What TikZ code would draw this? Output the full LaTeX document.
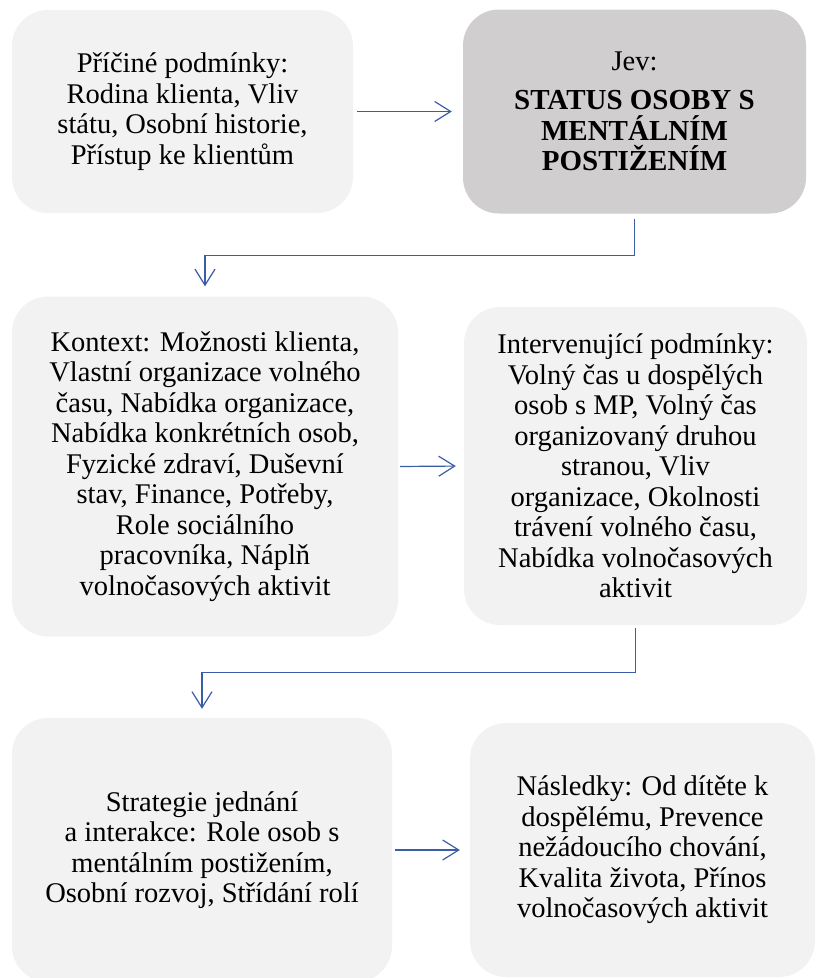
\documentclass[tikz,border=0pt]{standalone}
\usepackage{fontspec}
\setmainfont{Liberation Serif}
\usepackage{tikz}
\usetikzlibrary{
arrows.meta,
positioning
}
\definecolor{PMLight}{HTML}{F2F2F2}
\definecolor{PMDark}{HTML}{D0CECE}
\definecolor{PMBlue}{HTML}{3A5DA8}

\newcommand{\pmhead}[1]{{\fontsize{29}{31}\selectfont\bfseries #1}}

\tikzset{
pmbox/.style={rounded corners=36pt, fill=PMLight, align=center, inner sep=0pt,
  font=\fontsize{28.5}{30.5}\selectfont},
pmcore/.style={pmbox, fill=PMDark},
pmlink/.style={draw=PMBlue, line width=1.2pt, -{Straight Barb[length=16pt,width=20pt]}}
}

\begin{document}
\begin{tikzpicture}[x=1pt, y=-1pt]
\useasboundingbox (0,0) rectangle (818,978);
% upper row
\node[pmbox, minimum width=341pt, minimum height=203pt] (cause) at (182.5,111.5)
  {Příčiné podmínky:\\ Rodina klienta, Vliv\\ státu, Osobní historie,\\ Přístup ke klientům};
\node[pmcore, minimum width=343pt, minimum height=204pt] (jev) at (634.5,111.5)
  {Jev:\\[9pt] \pmhead{STATUS OSOBY S}\\ \pmhead{MENTÁLNÍM}\\ \pmhead{POSTIŽENÍM}};
% middle row
\node[pmbox, minimum width=386pt, minimum height=340pt] (context) at (205,466.5)
  {Kontext: Možnosti klienta,\\ Vlastní organizace volného\\ času, Nabídka organizace,\\ Nabídka konkrétních osob,\\ Fyzické zdraví, Duševní\\ stav, Finance, Potřeby,\\ Role sociálního\\ pracovníka, Náplň\\ volnočasových aktivit};
\node[pmbox, minimum width=343pt, minimum height=318pt] (interv) at (635.5,466)
  {Intervenující podmínky:\\ Volný čas u dospělých\\ osob s MP, Volný čas\\ organizovaný druhou\\ stranou, Vliv\\ organizace, Okolnosti\\ trávení volného času,\\ Nabídka volnočasových\\ aktivit};
% lower row
\node[pmbox, minimum width=380pt, minimum height=264pt] (strategy) at (202,850)
  {Strategie jednání\\ a interakce: Role osob s\\ mentálním postižením,\\ Osobní rozvoj, Střídání rolí};
\node[pmbox, minimum width=345pt, minimum height=254pt] (result) at (642.5,850)
  {Následky: Od dítěte k\\ dospělému, Prevence\\ nežádoucího chování,\\ Kvalita života, Přínos\\ volnočasových aktivit};
% connectors
\draw[pmlink, shorten <=4pt, shorten >=11pt] (cause.east) -- (jev.west);
\draw[pmlink, shorten <=5pt, shorten >=10pt] (jev.south) -- ++(0,42) -| (context.north);
\draw[pmlink, shorten <=2pt, shorten >=8pt] (context.east) -- (interv.west);
\draw[pmlink, shorten <=3pt, shorten >=9pt] (interv.south) -- ++(0,47) -| (strategy.north);
\draw[pmlink, shorten <=3pt, shorten >=10pt] (strategy.east) -- (result.west);
\end{tikzpicture}
\end{document}
